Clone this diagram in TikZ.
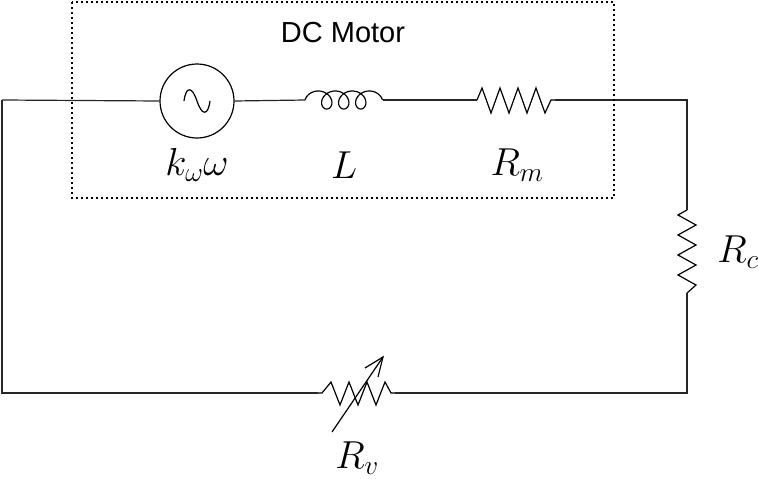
\RequirePackage{fix-cm}
\documentclass[tikz,border=0pt]{standalone}
\usepackage{fontspec}
\newfontfamily\lab{Liberation Sans}
\begin{document}
\begin{tikzpicture}[x=1pt,y=-1pt,line width=1.2pt,
  wire/.style={draw=black!85},
  ml/.style={font=\fontsize{39}{42}\selectfont,inner sep=1pt}]
\useasboundingbox (0,0) rectangle (758,479);
% nodes
\node[draw,circle,minimum size=74pt,inner sep=0pt,line width=1.2pt] (src) at (197,101) {};
\draw (184,101) .. controls (186,86) and (192,86) .. (197,101) .. controls (202,116) and (208,116) .. (210,101);
\coordinate (lA) at (305,100); \coordinate (lB) at (383,100);
\coordinate (rA) at (477,100); \coordinate (rB) at (555,100);
\coordinate (cA) at (687,210); \coordinate (cB) at (687,293);
\coordinate (vA) at (395,393); \coordinate (vB) at (318,393);
\coordinate (TL) at (2,100); \coordinate (BL) at (2,393);
\coordinate (TR) at (687,100); \coordinate (BR) at (687,393);
% inductor
\draw plot[domain=0:21.99,samples=200,smooth,variable=\u] ({305+9+17*\u/6.2832-9*cos(\u r)},{100-9*sin(\u r)});
% resistor top
\draw (rA) -- (482,88) -- (491,113) -- (500,88) -- (509,113) -- (518,88) -- (527,113) -- (536,88) -- (545,113) -- (551,100) -- (rB);
% vertical resistor
\draw (cA) -- (678,215) -- (696,225) -- (678,235) -- (696,245) -- (678,255) -- (696,265) -- (678,275) -- (696,285) -- (cB);
% variable resistor
\draw (vB) -- (322,393) -- (331,382) -- (340,405) -- (349,382) -- (358,405) -- (367,382) -- (376,405) -- (385,382) -- (391,393) -- (vA);
\coordinate (arS) at (332,432); \coordinate (arE) at (383,357);
\draw (arS) -- (arE);
\draw (365,368) -- (arE) -- (378,377);
% wires
\draw[wire] (TL) -- (src.west);
\draw[wire] (src.east) -- (lA);
\draw[wire] (lB) -- (rA);
\draw[wire] (rB) -- (TR) -- (cA);
\draw[wire] (cB) -- (BR) -- (vA);
\draw[wire] (vB) -- (BL) -- (TL);
% box
\draw[line width=1.8pt,dash pattern=on 1.8pt off 3.2pt] (72,2) rectangle (614,198);
\node[font=\lab\fontsize{29}{32}\selectfont] (dc) at (343,33) {DC Motor};
\node[ml] (l1) at (197,165) {$k_\omega\omega$};
\node[ml] (l2) at (344,165) {$L$};
\node[ml] (l3) at (517,165) {$R_m$};
\node[ml] (l4) at (738,252) {$R_c$};
\node[ml] (l5) at (357,458) {$R_v$};
\end{tikzpicture}
\end{document}
